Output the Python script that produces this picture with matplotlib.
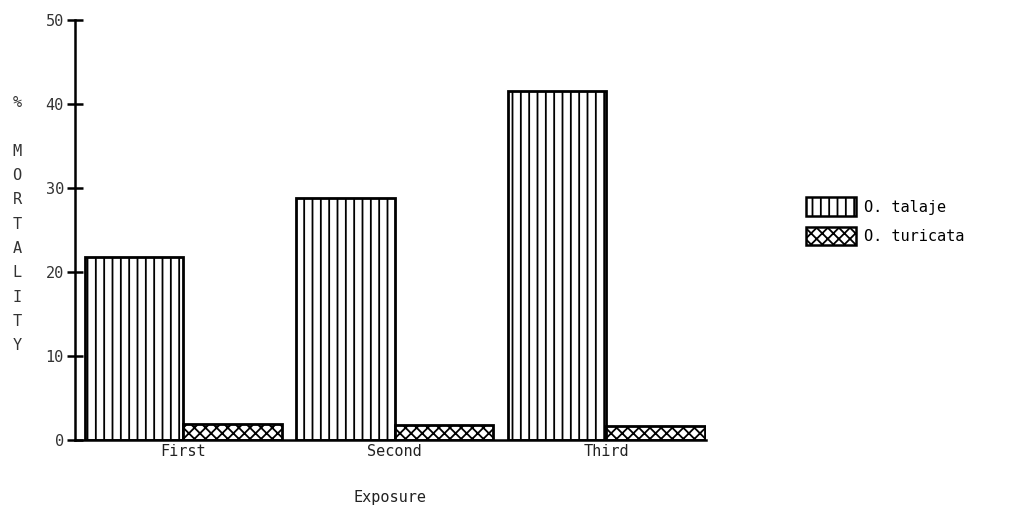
import numpy as np
import matplotlib.pyplot as plt
from matplotlib.patches import Patch

exposures = ["First", "Second", "Third"]
talaje = [21.8, 28.8, 41.5]
turicata = [1.9, 1.8, 1.7]

plt.rcParams['font.family'] = 'DejaVu Sans Mono'
plt.rcParams['hatch.linewidth'] = 1.3

fig = plt.figure(figsize=(10.09, 5.27), dpi=100)
ax = fig.add_axes([0.0743, 0.165, 0.625, 0.797])

x = np.arange(len(exposures))
w = 0.465
ax.bar(x - w / 2, talaje, width=w, color='white', edgecolor='black',
       linewidth=2, hatch='||', label='O. talaje')
ax.bar(x + w / 2, turicata, width=w, color='white', edgecolor='black',
       linewidth=2, hatch='xxx', label='O. turicata')

ax.set_xlim(-0.512, 2.47)
ax.set_ylim(0, 50)
ax.set_yticks([0, 10, 20, 30, 40, 50])
ax.set_xticks(x)
ax.set_xticklabels(exposures)

ax.spines['top'].set_visible(False)
ax.spines['right'].set_visible(False)
ax.spines['left'].set_linewidth(1.8)
ax.spines['bottom'].set_linewidth(1.8)
ax.tick_params(axis='y', direction='inout', length=12, width=1.8,
               labelsize=11, labelcolor='#333333', pad=2)
ax.tick_params(axis='x', length=0, labelsize=11, labelcolor='#222222', pad=3)

ax.set_xlabel('Exposure', fontsize=11, color='#222222', labelpad=22)

fig.text(0.017, 0.82, "%\n\nM\nO\nR\nT\nA\nL\nI\nT\nY", fontsize=11,
         color='#333333', ha='center', va='top', linespacing=1.78)

handles = [Patch(facecolor='white', edgecolor='black', hatch='||', linewidth=1.8, label='O. talaje'),
           Patch(facecolor='white', edgecolor='black', hatch='xxx', linewidth=1.8, label='O. turicata')]
fig.legend(handles=handles, loc='center left', bbox_to_anchor=(0.785, 0.58),
           frameon=False, fontsize=11, handlelength=3.3, handleheight=1.5,
           handletextpad=0.5, labelspacing=0.7)

fig.savefig('out.png', dpi=100)
